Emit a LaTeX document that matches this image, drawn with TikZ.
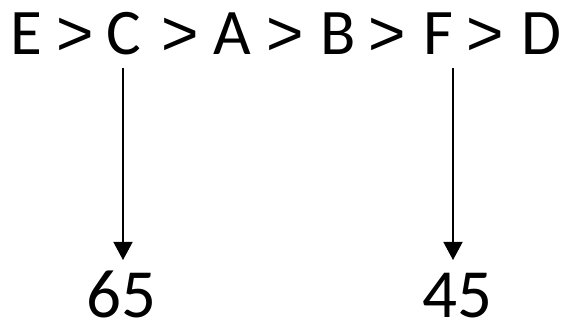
\documentclass[tikz,border=0pt]{standalone}
\usepackage{fontspec}
\setmainfont{Carlito}
\newfontfamily\gtfont{Liberation Sans}
\usetikzlibrary{arrows.meta}
\begin{document}
\begin{tikzpicture}[x=1pt,y=1pt,
  big/.style={font=\fontsize{65}{78}\selectfont, inner sep=0pt, anchor=base},
  gt/.style={font=\gtfont\fontsize{64}{78}\selectfont, inner sep=0pt, anchor=base},
  num/.style={font=\fontsize{69}{83}\selectfont, inner sep=0pt, anchor=base},
  conn/.style={line width=1.4pt, -{Triangle[length=18pt,width=19pt]}}]
\useasboundingbox (0,0) rectangle (566,327);
\node[big] (e)  at (26,272)  {E};
\node[gt]  (g1) at (75,271)  {>};
\node[big] (c)  at (123.5,272) {C};
\node[gt]  (g2) at (180,271) {>};
\node[big] (a)  at (232,272) {A};
\node[gt]  (g3) at (285,271) {>};
\node[big] (b)  at (338,272) {B};
\node[gt]  (g4) at (387,271) {>};
\node[big] (f)  at (438,272) {F};
\node[gt]  (g5) at (485,271) {>};
\node[big] (d)  at (541,272) {D};
\node[num] (n65) at (121,9) {65};
\node[num] (n45) at (457.5,9) {45};
\coordinate (cC) at (123,259);
\coordinate (cF) at (453,259);
\draw[conn] (cC) -- (cC |- 0,67);
\draw[conn] (cF) -- (cF |- 0,67);
\end{tikzpicture}
\end{document}
